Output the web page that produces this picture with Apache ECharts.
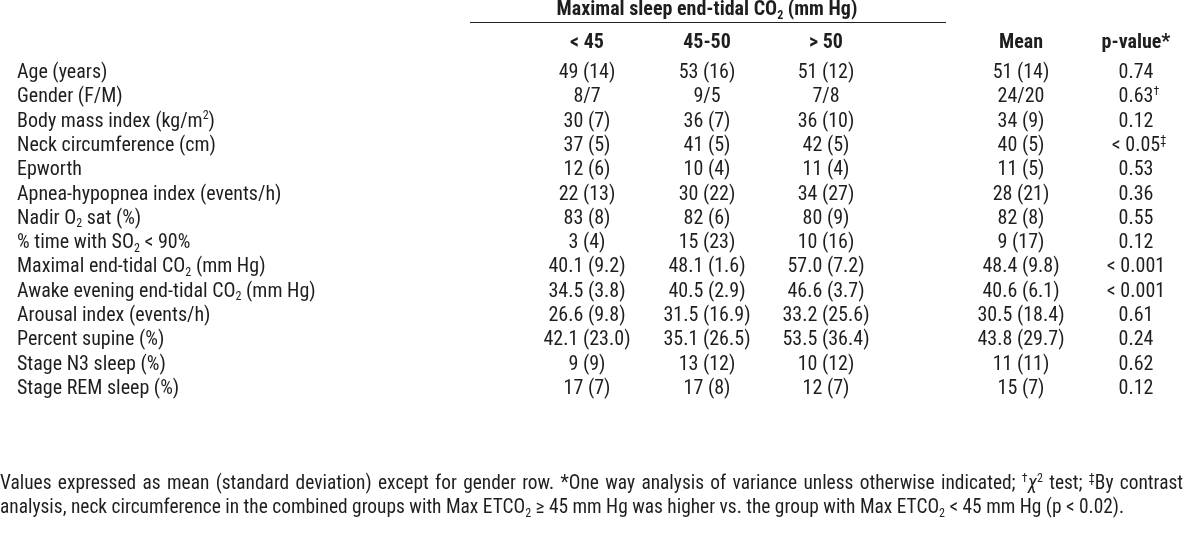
<!DOCTYPE html>
<html><head><meta charset="utf-8">
<script src="https://cdn.jsdelivr.net/npm/echarts@6/dist/echarts.min.js"></script>
<style>html,body{margin:0;padding:0;background:#fff}#c{width:1200px;height:537px}</style>
</head><body><div id="c"></div>
<script>
// ---------- data ----------
const groupTitle = 'Maximal sleep end-tidal CO{sub|2} (mm Hg)';
const columnHeaders = ['< 45', '45-50', '> 50', 'Mean', 'p-value*'];
const rowLabels = [
  'Age (years)',
  'Gender (F/M)',
  'Body mass index (kg/m{sup|2})',
  'Neck circumference (cm)',
  'Epworth',
  'Apnea-hypopnea index (events/h)',
  'Nadir O{sub|2} sat (%)',
  '% time with SO{sub|2} < 90%',
  'Maximal end-tidal CO{sub|2} (mm Hg)',
  'Awake evening end-tidal CO{sub|2} (mm Hg)',
  'Arousal index (events/h)',
  'Percent supine (%)',
  'Stage N3 sleep (%)',
  'Stage REM sleep (%)'
];
const colLt45 = ['49 (14)', '8/7', '30 (7)', '37 (5)', '12 (6)', '22 (13)', '83 (8)', '3 (4)', '40.1 (9.2)', '34.5 (3.8)', '26.6 (9.8)', '42.1 (23.0)', '9 (9)', '17 (7)'];
const col45to50 = ['53 (16)', '9/5', '36 (7)', '41 (5)', '10 (4)', '30 (22)', '82 (6)', '15 (23)', '48.1 (1.6)', '40.5 (2.9)', '31.5 (16.9)', '35.1 (26.5)', '13 (12)', '17 (8)'];
const colGt50 = ['51 (12)', '7/8', '36 (10)', '42 (5)', '11 (4)', '34 (27)', '80 (9)', '10 (16)', '57.0 (7.2)', '46.6 (3.7)', '33.2 (25.6)', '53.5 (36.4)', '10 (12)', '12 (7)'];
const colMean = ['51 (14)', '24/20', '34 (9)', '40 (5)', '11 (5)', '28 (21)', '82 (8)', '9 (17)', '48.4 (9.8)', '40.6 (6.1)', '30.5 (18.4)', '43.8 (29.7)', '11 (11)', '15 (7)'];
const colPValue = ['0.74', '0.63{sup|\u2020}', '0.12', '< 0.05{sup|\u2021}', '0.53', '0.36', '0.55', '0.12', '< 0.001', '< 0.001', '0.61', '0.24', '0.62', '0.12'];
const footnoteLine1 = 'Values expressed as mean (standard deviation) except for gender row. *One way analysis of variance unless otherwise indicated; {sup|\u2020}{it|\u03C7}{sup|2} test; {sup|\u2021}By contrast';
const footnoteLine2 = 'analysis, neck circumference in the combined groups with Max ETCO{sub|2} \u2265 45 mm Hg was higher vs. the group with Max ETCO{sub|2} < 45 mm Hg (p < 0.02).';

// ---------- layout / style ----------
const FAMILY = 'Roboto Condensed';
const FONT = '"Roboto Condensed","Liberation Sans Narrow","Arial Narrow",sans-serif';
const TXT = '#1e1e1e';
const FS = 20;          // table font size
const FN = 19.4;        // footnote font size
const labelX = 17;
const colX = [587, 707, 826, 1021, 1136];
const dataCols = [colLt45, col45to50, colGt50, colMean, colPValue];
const SUPR = 0.62;

function richFor(fs, bold) {
  const w = bold ? 'bold' : 'normal';
  const s = Math.round(fs * SUPR);
  return {
    sub: {fontSize: s, padding: [Math.round(fs * 0.55), 0, 0, 0], fontFamily: FONT, color: TXT, fontWeight: w},
    sup: {fontSize: s, padding: [0, 0, Math.round(fs * 0.55), 0], fontFamily: FONT, color: TXT, fontWeight: w},
    it: {fontSize: fs, fontStyle: 'italic', fontFamily: FONT, color: TXT, fontWeight: w}
  };
}

// text measuring helpers (for justification / hanging superscripts)
const mctx = document.createElement('canvas').getContext('2d');
function tokens(str) {
  const out = []; const re = /\{(\w+)\|([^}]*)\}/g; let last = 0, m;
  while ((m = re.exec(str))) {
    if (m.index > last) out.push({s: null, t: str.slice(last, m.index)});
    out.push({s: m[1], t: m[2]}); last = re.lastIndex;
  }
  if (last < str.length) out.push({s: null, t: str.slice(last)});
  return out;
}
function measure(str, fs) {
  let w = 0;
  tokens(str).forEach(tk => {
    const size = (tk.s === 'sub' || tk.s === 'sup') ? Math.round(fs * SUPR) : fs;
    mctx.font = (tk.s === 'it' ? 'italic ' : '') + size + 'px "' + FAMILY + '"';
    w += mctx.measureText(tk.t).width;
  });
  return w;
}
function supWidth(str, fs) {
  let w = 0;
  tokens(str).forEach(tk => { if (tk.s === 'sup') { mctx.font = Math.round(fs * SUPR) + 'px "' + FAMILY + '"'; w += mctx.measureText(tk.t).width; } });
  return w;
}

const chart = echarts.init(document.getElementById('c'), null, {renderer: 'canvas'});

const baseLabel = {show: true, fontFamily: FONT, fontSize: FS, color: TXT, opacity: 1, rich: richFor(FS, false)};
const series = [];
series.push({
  type: 'scatter', symbolSize: 0, silent: true, itemStyle: {opacity: 1},
  data: rowLabels.map((t, i) => ({value: [labelX, i], name: t})),
  label: Object.assign({}, baseLabel, {position: 'right', distance: 0, formatter: p => p.name})
});
dataCols.forEach((col, j) => {
  series.push({
    type: 'scatter', symbolSize: 0, silent: true, itemStyle: {opacity: 1},
    data: col.map((t, i) => ({value: [colX[j], i], name: t,
      label: {offset: [supWidth(t, FS) / 2, 0]}})),
    label: Object.assign({}, baseLabel, {position: 'inside', formatter: p => p.name})
  });
});

// footnotes (first line justified to full width)
function lineWords(str, y, x0, target) {
  const words = str.split(' ');
  const widths = words.map(w => measure(w, FN));
  const total = widths.reduce((a, b) => a + b, 0);
  const gap = target ? (target - total) / (words.length - 1) : measure(' ', FN);
  let x = x0; const els = [];
  words.forEach((w, k) => {
    els.push({type: 'text', x: x, y: y, style: {text: w, verticalAlign: 'middle',
      fontFamily: FONT, fontSize: FN, fill: TXT, rich: richFor(FN, false)}});
    x += widths[k] + gap;
  });
  return els;
}

chart.setOption({
  animation: false,
  backgroundColor: '#fff',
  grid: {left: 0, right: 0, top: 61, height: 340},
  xAxis: {
    type: 'value', min: 0, max: 1200, position: 'top',
    axisLine: {show: false}, axisTick: {show: false}, splitLine: {show: false},
    axisLabel: {
      customValues: colX, margin: 8,
      fontFamily: FONT, fontSize: FS, fontWeight: 'bold', color: TXT,
      formatter: v => columnHeaders[colX.indexOf(v)]
    }
  },
  yAxis: {
    type: 'category', inverse: true, data: rowLabels.map((_, i) => i),
    show: false
  },
  series: series,
  graphic: [
    {type: 'text', x: 707, y: 10,
      style: {text: groupTitle, align: 'center', verticalAlign: 'middle',
        fontFamily: FONT, fontSize: FS, fontWeight: 'bold', fill: TXT, rich: richFor(FS, true)}},
    {type: 'line', shape: {x1: 470, y1: 22.5, x2: 946, y2: 22.5}, style: {stroke: '#222', lineWidth: 1}}
  ].concat(lineWords(footnoteLine1, 484, 0, 1183), lineWords(footnoteLine2, 508, 0, null))
});
</script></body></html>
